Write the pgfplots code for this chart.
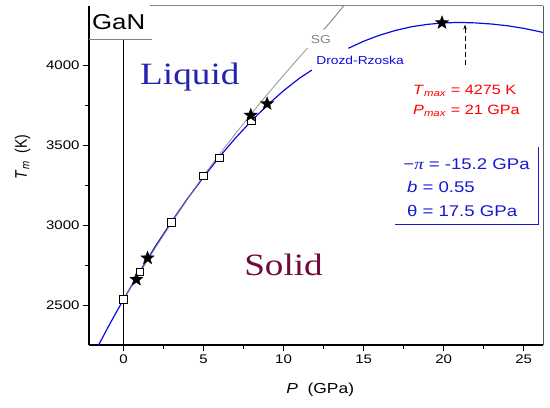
\documentclass[border=0pt]{standalone}
\usepackage{fontspec}
\setmainfont{Liberation Sans}[FakeStretch=1.2]
\newfontfamily\plainsans{Liberation Sans}
\newfontfamily\serifx{Liberation Serif}[FakeStretch=1.2]
\usepackage{graphicx}
\usepackage{pgfplots}
\pgfplotsset{compat=1.18}
\usetikzlibrary{arrows.meta}

\definecolor{curveblue}{RGB}{10,10,225}
\definecolor{liqblue}{RGB}{35,35,175}
\definecolor{solidred}{RGB}{110,10,60}
\definecolor{boxblue}{RGB}{25,25,210}
\definecolor{sgray}{RGB}{130,130,130}
\definecolor{framegray}{RGB}{90,90,90}

\pgfdeclareplotmark{fstar}{%
 \pgfpathmoveto{\pgfpointpolar{90}{\pgfplotmarksize}}%
 \pgfpathlineto{\pgfpointpolar{126}{0.42\pgfplotmarksize}}%
 \pgfpathlineto{\pgfpointpolar{162}{\pgfplotmarksize}}%
 \pgfpathlineto{\pgfpointpolar{198}{0.42\pgfplotmarksize}}%
 \pgfpathlineto{\pgfpointpolar{234}{\pgfplotmarksize}}%
 \pgfpathlineto{\pgfpointpolar{270}{0.42\pgfplotmarksize}}%
 \pgfpathlineto{\pgfpointpolar{306}{\pgfplotmarksize}}%
 \pgfpathlineto{\pgfpointpolar{342}{0.42\pgfplotmarksize}}%
 \pgfpathlineto{\pgfpointpolar{18}{\pgfplotmarksize}}%
 \pgfpathlineto{\pgfpointpolar{54}{0.42\pgfplotmarksize}}%
 \pgfpathclose\pgfusepathqfillstroke}

\pgfplotstableread{
P T
-1.6 2241
-1 2355
-0.5 2446
0 2535
1 2707
2 2869
3 3022
4 3167
5 3302
6 3429
7 3547
8 3655
9 3754
10 3843
11 3922
11.76 3972
}\drozdA
\pgfplotstableread{
P T
14.05 4109
15 4153
16 4191
17 4221
18 4244
19 4259
20 4268
21 4271
22 4268
23 4261
24 4250
25 4234
26 4213
26.3 4206
}\drozdB
\pgfplotstableread{
P T
0 2535
1 2700
2 2860
3 3015
4 3165
5 3310
6 3445
7 3575
8 3700
9 3822
10 3940
11 4055
11.5 4110
}\sgA
\pgfplotstableread{
P T
12.5 4225
13 4282
13.8 4380
}\sgB
\pgfplotstableread{
P T
0 2535
1.03 2708
3.0 3017
5.0 3308
6.0 3422
8.0 3655
}\squares
\pgfplotstableread{
P T
0.8 2660
1.5 2794
7.95 3689
8.97 3761
19.9 4269
}\stars

\begin{document}
\begin{tikzpicture}
\begin{axis}[
  scale only axis, width=454.3pt, height=339pt,
  xmin=-2.16, xmax=26.23, ymin=2249, ymax=4374,
  axis x line*=bottom, axis y line*=left,
  axis line style={line width=1.3pt, black, -},
  xtick={0,5,10,15,20,25}, xticklabels={0,5,10,15,20,25},
  ytick={2500,3000,3500,4000}, yticklabels={2500,3000,3500,4000},
  minor x tick num=1, minor y tick num=1,
  tick align=outside, major tick length=6pt, minor tick length=3.5pt,
  tick style={line width=0.9pt, black},
  tick label style={font=\fontsize{12.5}{15}\selectfont},
  clip mode=individual,
]
\addplot[curveblue, line width=1.2pt, no marks] table[x=P,y=T] {\drozdA};
\addplot[curveblue, line width=1.2pt, no marks] table[x=P,y=T] {\drozdB};
\addplot[sgray, line width=0.9pt, opacity=0.8, no marks] table[x=P,y=T] {\sgA};
\addplot[sgray, line width=0.9pt, no marks] table[x=P,y=T] {\sgB};
\draw[black, line width=1.5pt] (axis cs:0,4160) -- (axis cs:0,2249);
\addplot[only marks, mark=square*, mark size=3.7pt, mark options={fill=white, draw=black, line width=0.8pt}] table[x=P,y=T] {\squares};
\addplot[only marks, mark=fstar, mark size=7pt, mark options={fill=black, draw=black, line width=0.3pt}] table[x=P,y=T] {\stars};

\draw[sgray, line width=0.9pt] (axis cs:-2.16,4167) -- (axis cs:1.78,4167);
\draw[sgray, line width=1pt] (axis cs:1.65,4374) -- (axis cs:26.23,4374);
\draw[framegray, line width=1.1pt] (axis cs:26.23,4374) -- (axis cs:26.23,2249);
\node[anchor=base west, inner sep=0, font=\fontsize{21.5}{22}\selectfont] at (axis cs:-1.975,4224) {GaN};

\node[anchor=base west, inner sep=0, text=liqblue, font=\serifx\fontsize{31}{31}\selectfont] at (axis cs:1.03,3885) {Liquid};
\node[anchor=base west, inner sep=0, text=solidred, font=\serifx\fontsize{31}{31}\selectfont] at (axis cs:7.53,2682) {Solid};

\node[text=sgray, font=\fontsize{11.5}{12}\selectfont] at (axis cs:12.33,4161) {SG};
\node[text=curveblue, font=\fontsize{11.5}{12}\selectfont] at (axis cs:14.78,4036) {Drozd-Rzoska};

\draw[black, dash pattern=on 5pt off 3pt, line width=0.8pt, -{Stealth[length=5pt,width=3.5pt]}] (axis cs:21.34,4004) -- (axis cs:21.34,4258);

\node[anchor=base west, inner sep=0, text=red, font=\fontsize{13.5}{14}\selectfont] at (axis cs:18.09,3821) {\textit{T}\textsubscript{\textit{max}} = 4275 K};
\node[anchor=base west, inner sep=0, text=red, font=\fontsize{13.5}{14}\selectfont] at (axis cs:18.09,3695) {\textit{P}\textsubscript{\textit{max}} = 21 GPa};

\draw[boxblue, line width=0.8pt] (axis cs:16.96,3008) -- (axis cs:25.92,3008) -- (axis cs:25.92,3490);
\node[anchor=base west, inner sep=0, text=boxblue, font=\fontsize{15.5}{16}\selectfont] at (axis cs:17.48,3350) {−{\serifx\itshape π} = -15.2 GPa};
\node[anchor=base west, inner sep=0, text=boxblue, font=\fontsize{15.5}{16}\selectfont] at (axis cs:17.7,3204) {\textit{b} = 0.55};
\node[anchor=base west, inner sep=0, text=boxblue, font=\fontsize{15.5}{16}\selectfont] at (axis cs:17.7,3053) {θ = 17.5 GPa};

\node[rotate=90, font=\plainsans\fontsize{14}{14}\selectfont] at (axis cs:-6.32,3428) {\scalebox{1}[1.2]{\textit{T}\textsubscript{\textit{m}}\ \ (K)}};
\node[font=\fontsize{14.5}{15}\selectfont] at (axis cs:12.29,1967) {\textit{P}\ \ (GPa)};
\end{axis}
\pgfresetboundingbox
\path ([xshift=-89pt,yshift=-62pt]current axis.south west) rectangle ([xshift=6.7pt,yshift=6pt]current axis.north east);
\end{tikzpicture}
\end{document}
